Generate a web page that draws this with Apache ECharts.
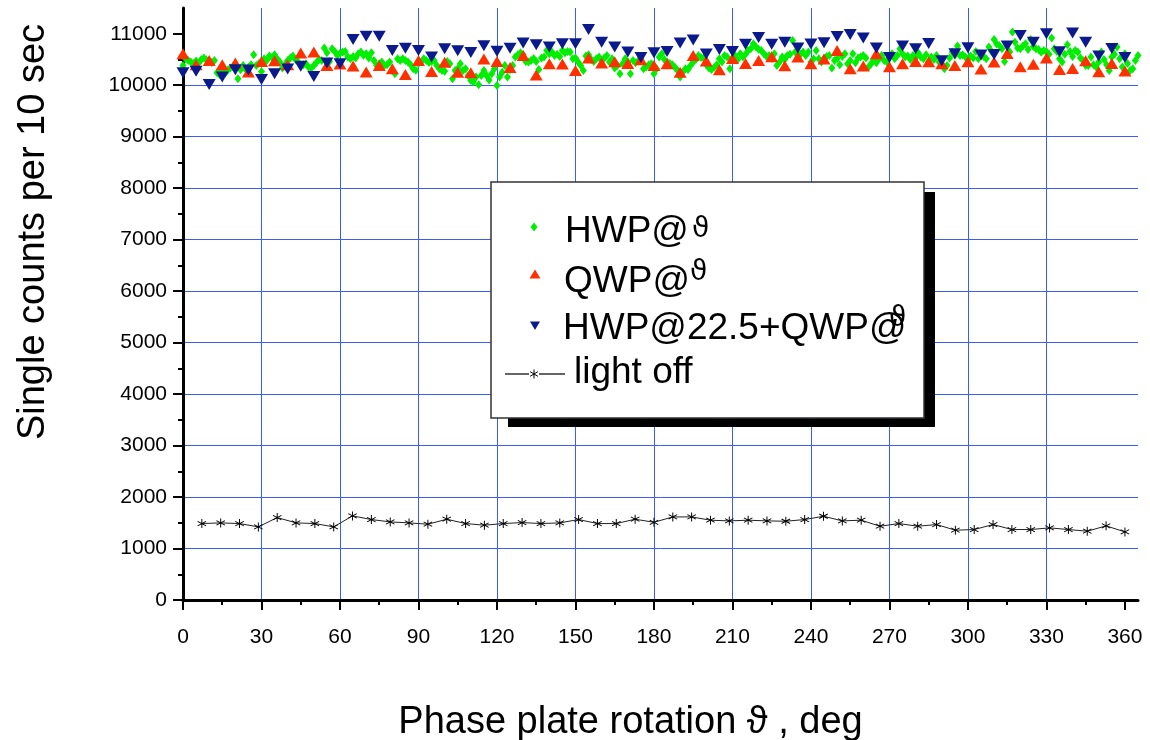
<!DOCTYPE html>
<html>
<head>
<meta charset="utf-8">
<script src="https://cdn.jsdelivr.net/npm/echarts@6/dist/echarts.min.js"></script>
<style>
html,body{margin:0;padding:0;background:#fff;}
#chart{width:1150px;height:740px;}
</style>
</head>
<body>
<div id="chart"></div>
<script>
// ---- data ----
const hwpAngles = [
0,1,2,3,4,5,6,7,8,9,10,11,12,13,14,15,16,17,18,19,20,21,22,23,24,25,26,27,28,29,
30,31,32,33,34,35,36,37,38,39,40,41,42,43,44,45,46,47,48,49,50,51,52,53,54,55,56,57,58,59,
60,61,62,63,64,65,66,67,68,69,70,71,72,73,74,75,76,77,78,79,80,81,82,83,84,85,86,87,88,89,
90,91,92,93,94,95,96,97,98,99,100,101,102,103,104,105,106,107,108,109,110,111,112,113,114,115,116,117,118,119,
120,121,122,123,124,125,126,127,128,129,130,131,132,133,134,135,136,137,138,139,140,141,142,143,144,145,146,147,148,149,
150,151,152,153,154,155,156,157,158,159,160,161,162,163,164,165,166,167,168,169,170,171,172,173,174,175,176,177,178,179,
180,181,182,183,184,185,186,187,188,189,190,191,192,193,194,195,196,197,198,199,200,201,202,203,204,205,206,207,208,209,
210,211,212,213,214,215,216,217,218,219,220,221,222,223,224,225,226,227,228,229,230,231,232,233,234,235,236,237,238,239,
240,241,242,243,244,245,246,247,248,249,250,251,252,253,254,255,256,257,258,259,260,261,262,263,264,265,266,267,268,269,
270,271,272,273,274,275,276,277,278,279,280,281,282,283,284,285,286,287,288,289,290,291,292,293,294,295,296,297,298,299,
300,301,302,303,304,305,306,307,308,309,310,311,312,313,314,315,316,317,318,319,320,321,322,323,324,325,326,327,328,329,
330,331,332,333,334,335,336,337,338,339,340,341,342,343,344,345,346,347,348,349,350,351,352,353,354,355,356,357,358,359,
360,361,362,363,364,365];
const hwpCounts = [
10385,10514,10480,10449,10420,10470,10430,10501,10527,10490,
10462,10440,10482,10242,10203,10290,10230,10287,10333,10360,
10320,10126,10300,10385,10307,10350,10397,10591,10385,10420,
10268,10514,10480,10566,10540,10591,10514,10449,10333,10400,
10482,10527,10566,10500,10449,10380,10397,10417,10350,10333,
10385,10440,10501,10480,10721,10630,10462,10708,10656,10579,
10620,10643,10656,10546,10514,10560,10527,10611,10643,10580,
10611,10527,10630,10482,10385,10417,10450,10385,10400,10449,
10287,10223,10514,10480,10514,10482,10449,10400,10320,10290,
10420,10449,10514,10482,10440,10460,10482,10385,10320,10287,
10270,10462,10417,10126,10287,10320,10417,10287,10320,10190,
10093,10061,10158,10009,10190,10287,10190,10100,10223,10320,
9996,10158,10250,10385,10158,10300,10385,10546,10591,10630,
10591,10462,10449,10482,10520,10462,10307,10527,10546,10676,
10611,10643,10579,10600,10560,10676,10630,10656,10643,10514,
10527,10450,10385,10287,10566,10591,10500,10462,10514,10546,
10480,10527,10579,10449,10514,10333,10385,10223,10417,10514,
10450,10223,10482,10436,10470,10501,10320,10352,10400,10417,
10223,10320,10546,10611,10500,10449,10420,10397,10350,10287,
10158,10255,10320,10307,10385,10450,10500,10579,10540,10527,
10397,10333,10307,10350,10397,10514,10450,10579,10546,10320,
10514,10579,10500,10611,10546,10600,10676,10708,10805,10740,
10700,10676,10611,10560,10579,10520,10611,10385,10449,10546,
10500,10579,10600,10870,10643,10546,10600,10643,10579,10643,
10449,10514,10676,10514,10450,10520,10560,10579,10333,10482,
10514,10397,10560,10611,10417,10480,10611,10436,10527,10546,
10579,10527,10352,10417,10501,10436,10514,10579,10482,10450,
10560,10611,10514,10579,10708,10611,10546,10566,10500,10579,
10540,10630,10546,10514,10591,10449,10546,10500,10579,10449,
10397,10320,10385,10527,10643,10580,10760,10579,10591,10546,
10500,10566,10527,10656,10514,10600,10560,10514,10740,10660,
10889,10800,10773,10708,10462,10600,10650,11032,10837,10721,
10708,10760,10805,10695,10889,10750,10708,10695,10640,10676,
10656,10600,10915,10708,10656,10514,10449,10600,10786,10656,
10560,10676,10643,10527,10480,10385,10385,10546,10397,10352,
10450,10643,10500,10400,10287,10546,10600,10740,10514,10352,
10611,10420,10287,10320,10480,10578];

const qwpAngles = [0,5,10,15,20,25,30,35,40,45,50,55,60,65,70,75,80,85,90,95,100,105,110,115,120,125,130,135,140,145,150,155,160,165,170,175,180,
185,190,195,200,205,210,215,220,225,230,235,240,245,250,255,260,265,270,275,280,285,290,295,300,305,310,315,320,325,330,335,340,345,350,355,360];
const qwpCounts = [
10610,10400,10480,10400,10430,10255,10460,10475,10397,10624,
10643,10384,10410,10372,10255,10384,10320,10206,10481,10268,
10446,10250,10242,10510,10460,10342,10578,10197,10417,10410,
10287,10530,10433,10458,10424,10497,10385,10417,10250,10578,
10470,10300,10520,10424,10481,10552,10378,10546,10417,10507,
10676,10320,10375,10611,10358,10417,10462,10455,10417,10384,
10455,10313,10449,10617,10358,10407,10530,10303,10326,10475,
10262,10424,10278];

const hwpQwpAngles = qwpAngles;
const hwpQwpCounts = [
10242,10270,10012,10158,10300,10297,10113,10223,10313,10368,
10171,10433,10417,10889,10950,10950,10676,10717,10675,10546,
10708,10670,10637,10767,10660,10717,10821,10785,10740,10805,
10805,11080,10837,10740,10643,10540,10630,10653,10821,10877,
10605,10692,10656,10798,10928,10795,10837,10721,10800,10824,
10947,10986,10918,10721,10540,10760,10708,10811,10475,10611,
10727,10585,10595,10760,10967,10837,10999,10650,11012,10837,
10569,10715,10540];

const darkAngles = [7.2,14.4,21.6,28.8,36,43.2,50.4,57.6,64.8,72,79.2,86.4,93.6,100.8,108,115.2,122.4,129.6,136.8,144,151.2,158.4,165.6,172.8,180,
187.2,194.4,201.6,208.8,216,223.2,230.4,237.6,244.8,252,259.2,266.4,273.6,280.8,288,295.2,302.4,309.6,316.8,324,331.2,338.4,345.6,352.8,360];
const darkCounts = [
1485,1498,1485,1420,1602,1498,1485,1420,1634,1563,1517,1498,1472,1569,1485,1453,1485,1504,1485,1498,1563,1485,1485,1569,1510,
1614,1614,1550,1537,1550,1537,1530,1563,1627,1537,1550,1433,1485,1433,1466,1356,1369,1466,1369,1369,1401,1369,1336,1440,1323];

const xTicks = [0,30,60,90,120,150,180,210,240,270,300,330,360];
const yTicks = [0,1000,2000,3000,4000,5000,6000,7000,8000,9000,10000,11000];

const seriesNames = ['HWP@ϑ', 'QWP@ϑ', 'HWP@22.5+QWP@ϑ', 'light off'];

// ---- styling ----
const FONT = '"Liberation Sans", Arial, sans-serif';
const GREEN = '#00ee00';
const RED = '#ff3000';
const BLUE = '#0a1a8c';
const GRID = '#3b5bff';
const STAR = 'path://M9,0L11,0L11,20L9,20Z M1.84,4.13L19.16,14.13L18.16,15.87L0.84,5.87Z M0.84,14.13L18.16,4.13L19.16,5.87L1.84,15.87Z';

function pairs(xs, ys) { return ys.map((v, i) => [xs[i], v]); }

const chart = echarts.init(document.getElementById('chart'), null, {renderer: 'canvas'});

const axisCommon = {
  type: 'value',
  axisLine: {show: true, onZero: false, lineStyle: {color: '#000', width: 3}},
  axisTick: {show: true, inside: false, length: 10, lineStyle: {color: '#000', width: 2}},
  minorTick: {show: true, splitNumber: 2, length: 5, lineStyle: {color: '#000', width: 2}},
  minorSplitLine: {show: false},
  splitLine: {show: true, showMinLine: false, showMaxLine: false, lineStyle: {color: GRID, width: 1, type: 'solid'}}
};

const legendX = 491, legendY = 182;
const LFS = 37;

const option = {
  animation: false,
  backgroundColor: '#ffffff',
  grid: {left: 183, top: 8, width: 955, height: 592, show: false, containLabel: false, outerBoundsMode: 'none'},
  xAxis: Object.assign({}, axisCommon, {
    min: 0, max: 365, interval: 30,
    axisTick: Object.assign({}, axisCommon.axisTick, {customValues: xTicks}),
    axisLabel: {show: true, fontFamily: FONT, fontSize: 21, color: '#000', margin: 27, showMaxLabel: false, showMinLabel: true,
                formatter: v => String(v)},
    name: 'Phase plate rotation ϑ , deg',
    nameLocation: 'middle', nameGap: 104,
    nameTextStyle: {fontFamily: FONT, fontSize: 38, color: '#000', padding: [0, 60, 0, 0]}
  }),
  yAxis: Object.assign({}, axisCommon, {
    min: 0, max: 11500, interval: 1000,
    axisTick: Object.assign({}, axisCommon.axisTick, {customValues: yTicks}),
    axisLabel: {show: true, fontFamily: FONT, fontSize: 21, color: '#000', margin: 16, showMaxLabel: false, showMinLabel: true,
                formatter: v => String(v)},
    name: 'Single counts per 10 sec',
    nameLocation: 'middle', nameGap: 130,
    nameTextStyle: {fontFamily: FONT, fontSize: 38, color: '#000', padding: [0, 0, 0, 144]}
  }),
  series: [
    {name: seriesNames[0], type: 'scatter', data: pairs(hwpAngles, hwpCounts),
     symbol: 'diamond', symbolSize: [7, 9], itemStyle: {color: GREEN, opacity: 1}, z: 2},
    {name: seriesNames[1], type: 'scatter', data: pairs(qwpAngles, qwpCounts),
     symbol: 'triangle', symbolSize: [13, 11], itemStyle: {color: RED, opacity: 1}, z: 3},
    {name: seriesNames[2], type: 'scatter', data: pairs(hwpQwpAngles, hwpQwpCounts),
     symbol: 'triangle', symbolRotate: 180, symbolSize: [13, 11], itemStyle: {color: BLUE, opacity: 1}, z: 4},
    {name: seriesNames[3], type: 'line', data: pairs(darkAngles, darkCounts),
     symbol: STAR, symbolSize: 9, showSymbol: true, showAllSymbol: true,
     lineStyle: {color: '#222', width: 1}, itemStyle: {color: '#000'}, z: 5}
  ],
  graphic: {elements: [
    {type: 'rect', z: 100, silent: true, shape: {x: legendX + 17, y: legendY + 10, width: 427, height: 235}, style: {fill: '#000'}},
    {type: 'rect', z: 101, silent: true, shape: {x: legendX, y: legendY, width: 433, height: 236}, style: {fill: '#fff', stroke: '#333', lineWidth: 1.5}},
    {type: 'polygon', z: 102, silent: true, shape: {points: [[534, 222.5], [537.5, 227], [534, 231.5], [530.5, 227]]}, style: {fill: GREEN}},
    {type: 'polygon', z: 102, silent: true, shape: {points: [[535, 269.5], [540.5, 278.5], [529.5, 278.5]]}, style: {fill: RED}},
    {type: 'polygon', z: 102, silent: true, shape: {points: [[530, 321.5], [540, 321.5], [535, 330]]}, style: {fill: BLUE}},
    {type: 'line', z: 102, silent: true, shape: {x1: 505, y1: 374, x2: 529, y2: 374}, style: {stroke: '#000', lineWidth: 1.2}},
    {type: 'line', z: 102, silent: true, shape: {x1: 539, y1: 374, x2: 565, y2: 374}, style: {stroke: '#000', lineWidth: 1.2}},
    {type: 'line', z: 102, silent: true, shape: {x1: 534, y1: 369.5, x2: 534, y2: 378.5}, style: {stroke: '#000', lineWidth: 1}},
    {type: 'line', z: 102, silent: true, shape: {x1: 530.1, y1: 371.7, x2: 537.9, y2: 376.3}, style: {stroke: '#000', lineWidth: 1}},
    {type: 'line', z: 102, silent: true, shape: {x1: 530.1, y1: 376.3, x2: 537.9, y2: 371.7}, style: {stroke: '#000', lineWidth: 1}},
    {type: 'text', z: 102, silent: true, x: 565, y: 232, style: {text: 'HWP@', fontFamily: FONT, fontSize: LFS, fill: '#000', verticalAlign: 'middle', align: 'left'}},
    {type: 'text', z: 103, silent: true, x: 692, y: 230, style: {text: 'ϑ', fontFamily: '"DejaVu Sans"', fontSize: 28, fill: '#000', verticalAlign: 'middle', align: 'left'}},
    {type: 'text', z: 102, silent: true, x: 564, y: 282, style: {text: 'QWP@', fontFamily: FONT, fontSize: LFS, fill: '#000', verticalAlign: 'middle', align: 'left'}},
    {type: 'text', z: 103, silent: true, x: 690, y: 273, style: {text: 'ϑ', fontFamily: '"DejaVu Sans"', fontSize: 28, fill: '#000', verticalAlign: 'middle', align: 'left'}},
    {type: 'text', z: 102, silent: true, x: 563, y: 329, style: {text: 'HWP@22.5+QWP@', fontFamily: FONT, fontSize: LFS, fill: '#000', verticalAlign: 'middle', align: 'left'}},
    {type: 'text', z: 103, silent: true, x: 889, y: 319, style: {text: 'ϑ', fontFamily: '"DejaVu Sans"', fontSize: 28, fill: '#000', verticalAlign: 'middle', align: 'left'}},
    {type: 'text', z: 102, silent: true, x: 574, y: 373, style: {text: 'light off', fontFamily: FONT, fontSize: LFS, fill: '#000', verticalAlign: 'middle', align: 'left'}}
  ]}
};

chart.setOption(option);
</script>
</body>
</html>
